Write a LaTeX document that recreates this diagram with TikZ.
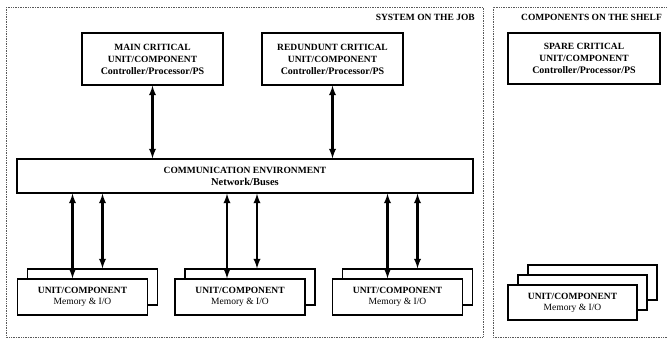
\documentclass[tikz,border=0pt]{standalone}
\usepackage{fontspec}
\setmainfont{Liberation Serif}
\usetikzlibrary{positioning, arrows}

\begin{document}
\begin{tikzpicture}[x=1pt, y=-1pt,
		frame/.style={densely dotted, gray!70!black, line width=0.7pt},
		title/.style={font=\fontsize{9.5}{10}\selectfont\bfseries, inner sep=0pt},
		critbox/.style={draw, line width=1.3pt, fill=white, align=center,
			minimum width=141pt, minimum height=52pt, inner sep=0pt,
			font=\fontsize{9.5}{12}\selectfont\bfseries},
		unitbox/.style={draw, line width=1.3pt, fill=white, align=center,
			minimum width=130pt, minimum height=36pt, inner sep=0pt,
			font=\fontsize{9.5}{11}\selectfont\bfseries},
		link/.style={latex-latex, line width=2.2pt}]
				\useasboundingbox (0,0) rectangle (667,341);
				\fill[white] (0,0) rectangle (667,341);
				
				%% Molduras
				\draw[frame] (6,7) rectangle (483,337);
				\draw[frame] (680,7) -- (493,7) -- (493,337) -- (680,337);
				\node[title, anchor=east] (job) at (475,17) {SYSTEM ON THE JOB};
				\node[title, anchor=west] (shelf) at (521,17) {COMPONENTS ON THE SHELF};
				
				%% Unidades criticas
				\node[critbox] (main) at (152.5,59) {MAIN CRITICAL\\UNIT/COMPONENT\\{\fontsize{10}{12}\selectfont Controller/Processor/PS}};
				\node[critbox] (redund) at (332.5,59) {REDUNDUNT CRITICAL\\UNIT/COMPONENT\\{\fontsize{10}{12}\selectfont Controller/Processor/PS}};
				\node[critbox, minimum width=152pt, minimum height=51pt] (spare) at (584,58.5) {SPARE CRITICAL\\UNIT/COMPONENT\\{\fontsize{10}{12}\selectfont Controller/Processor/PS}};
				
				%% Ambiente de comunicacao
				\node[critbox, minimum width=456pt, minimum height=34pt] (comm) at (245,176) {COMMUNICATION ENVIRONMENT\\{\fontsize{10.5}{12}\selectfont Network/Buses}};
				
				%% Unidades de memoria
				\node[unitbox] (unitAb) at (92.5,287) {};
				\node[unitbox] (unitA) at (82.5,297) {UNIT/COMPONENT\\{\mdseries Memory \& I/O}};
				\node[unitbox] (unitBb) at (250,287) {};
				\node[unitbox] (unitB) at (240,297) {UNIT/COMPONENT\\{\mdseries Memory \& I/O}};
				\node[unitbox] (unitCb) at (407.5,287) {};
				\node[unitbox] (unitC) at (397.5,297) {UNIT/COMPONENT\\{\mdseries Memory \& I/O}};
				
				%% Pilha na prateleira
				\node[unitbox, minimum width=129pt, minimum height=35pt] (spareC) at (592.5,282.5) {};
				\node[unitbox, minimum width=129pt, minimum height=35pt] (spareB) at (582.5,292.5) {};
				\node[unitbox, minimum width=129pt, minimum height=35pt] (spareA) at (572.5,302.5) {UNIT/COMPONENT\\{\mdseries Memory \& I/O}};
				
				%% Ligacoes
				\draw[link] (main.south) -- (main.south |- comm.north);
				\draw[link] (redund.south) -- (redund.south |- comm.north);
				
				\draw[link] ([xshift=-10pt]unitA.north) -- ([xshift=-10pt]unitA.north |- comm.south);
				\draw[link] ([xshift=10pt]unitAb.north) -- ([xshift=10pt]unitAb.north |- comm.south);
				\draw[link] ([xshift=-13pt]unitB.north) -- ([xshift=-13pt]unitB.north |- comm.south);
				\draw[link] ([xshift=7pt]unitBb.north) -- ([xshift=7pt]unitBb.north |- comm.south);
				\draw[link] ([xshift=-10pt]unitC.north) -- ([xshift=-10pt]unitC.north |- comm.south);
				\draw[link] ([xshift=10pt]unitCb.north) -- ([xshift=10pt]unitCb.north |- comm.south);
				
			\end{tikzpicture}
\end{document}
